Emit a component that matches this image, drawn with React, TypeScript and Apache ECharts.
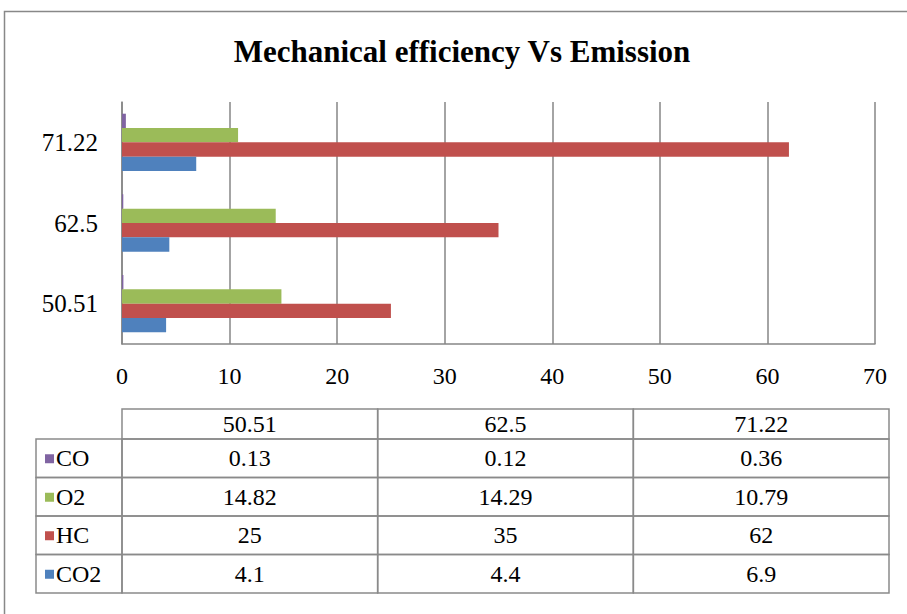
import React, { useEffect, useRef } from "react";
import * as echarts from "echarts";

const categories = ["50.51", "62.5", "71.22"];
const seriesNames = ["CO", "O2", "HC", "CO2"];
const coValues = [0.13, 0.12, 0.36];
const o2Values = [14.82, 14.29, 10.79];
const hcValues = [25, 35, 62];
const co2Values = [4.1, 4.4, 6.9];
const seriesColors = ["#8064A2", "#9BBB59", "#C0504D", "#4F81BD"];
const xMin = 0;
const xMax = 70;
const xInterval = 10;

const FONT = "Liberation Serif";

export default function App() {
  const ref = useRef<HTMLDivElement>(null);
  useEffect(() => {
    document.body.style.margin = "0";
    if (!ref.current) return;
    const chart = echarts.init(ref.current, undefined, { renderer: "svg" });
    const allValues = [coValues, o2Values, hcValues, co2Values];

    // table layout
    const tLeft = 36;
    const tColStart = 122;
    const tRight = 889;
    const headTop = 409;
    const headH = 30;
    const rowH = 38.5;
    const colW = (tRight - tColStart) / categories.length;
    const gray = "#8a8a8a";
    const textStyleBase = { fontFamily: FONT, fontSize: 24, fill: "#000" };

    const graphics: any[] = [];
    // outer border
    graphics.push({
      type: "rect",
      shape: { x: 4.5, y: 11.5, width: 1000, height: 1000 },
      style: { fill: "none", stroke: "#888", lineWidth: 1.5 },
      silent: true,
    });
    // title
    graphics.push({
      type: "text",
      x: 462,
      y: 51,
      style: {
        text: "Mechanical efficiency Vs Emission",
        fontFamily: FONT,
        fontSize: 31,
        fontWeight: "bold",
        fill: "#000",
        align: "center",
        verticalAlign: "middle",
      },
    });
    // header cells
    categories.forEach((c, i) => {
      graphics.push({
        type: "rect",
        shape: { x: tColStart + i * colW, y: headTop, width: colW, height: headH },
        style: { fill: "none", stroke: gray, lineWidth: 1.5 },
      });
      graphics.push({
        type: "text",
        x: tColStart + i * colW + colW / 2,
        y: headTop + headH / 2,
        style: { ...textStyleBase, text: c, align: "center", verticalAlign: "middle" },
      });
    });
    // body rows
    seriesNames.forEach((name, r) => {
      const y = headTop + headH + r * rowH;
      graphics.push({
        type: "rect",
        shape: { x: tLeft, y, width: tColStart - tLeft, height: rowH },
        style: { fill: "none", stroke: gray, lineWidth: 1.5 },
      });
      graphics.push({
        type: "rect",
        shape: { x: 45, y: y + rowH / 2 - 4, width: 9, height: 9 },
        style: { fill: seriesColors[r] },
      });
      graphics.push({
        type: "text",
        x: 56,
        y: y + rowH / 2,
        style: { ...textStyleBase, text: name, align: "left", verticalAlign: "middle" },
      });
      allValues[r].forEach((v, i) => {
        graphics.push({
          type: "rect",
          shape: { x: tColStart + i * colW, y, width: colW, height: rowH },
          style: { fill: "none", stroke: gray, lineWidth: 1.5 },
        });
        graphics.push({
          type: "text",
          x: tColStart + i * colW + colW / 2,
          y: y + rowH / 2,
          style: { ...textStyleBase, text: String(v), align: "center", verticalAlign: "middle" },
        });
      });
    });

    chart.setOption({
      animation: false,
      backgroundColor: "#fff",
      textStyle: { fontFamily: FONT },
      grid: { left: 122, right: 32, top: 102, bottom: 270, containLabel: false },
      xAxis: {
        type: "value",
        min: xMin,
        max: xMax,
        interval: xInterval,
        axisLine: { show: true, lineStyle: { color: "#868686", width: 1.5 } },
        axisTick: { show: false },
        splitLine: { show: true, lineStyle: { color: "#868686", width: 1.5 } },
        axisLabel: { color: "#000", fontSize: 24, fontFamily: FONT, margin: 20 },
      },
      yAxis: {
        type: "category",
        data: categories,
        axisLine: { show: true, lineStyle: { color: "#868686", width: 1.5 } },
        axisTick: { show: false },
        splitLine: { show: false },
        axisLabel: { color: "#000", fontSize: 25, fontFamily: FONT, margin: 24 },
      },
      series: seriesNames.map((name, r) => ({
        name,
        type: "bar",
        data: allValues[r],
        barGap: "0%",
        barCategoryGap: "29%",
        itemStyle: { color: seriesColors[r] },
      })),
      graphic: graphics,
    });
    return () => chart.dispose();
  }, []);
  return <div ref={ref} style={{ width: 907, height: 614 }} />;
}
